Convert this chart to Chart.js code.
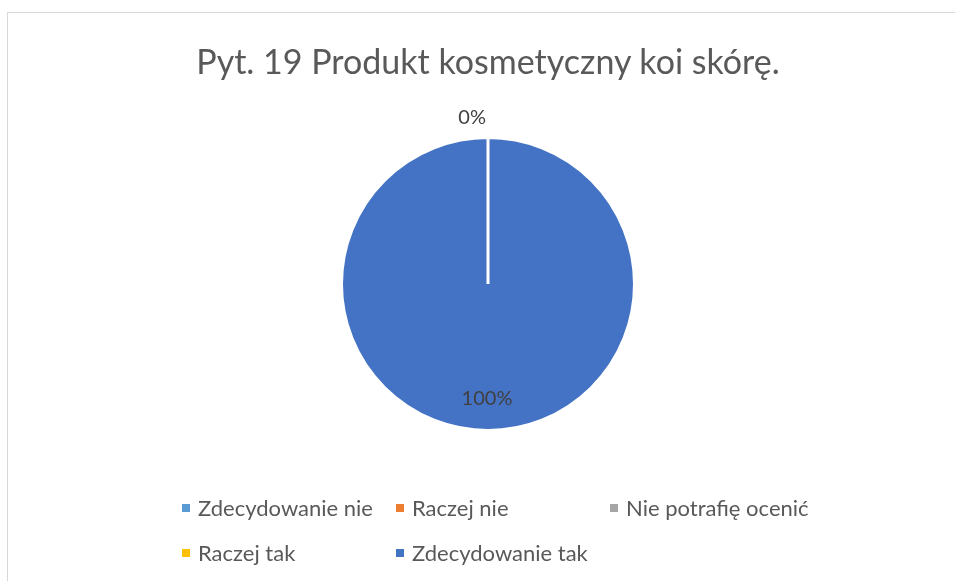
<!DOCTYPE html>
<html>
<head>
<meta charset="utf-8">
<script src="https://cdn.jsdelivr.net/npm/chart.js@4"></script>
<style>
  html, body { margin: 0; padding: 0; background: #fff; }
  #wrap { position: relative; width: 955px; height: 581px; overflow: hidden; }
  #frame { position: absolute; left: 7px; top: 12px; width: 1000px; height: 1000px; border: 1px solid #d9d9d9; box-sizing: border-box; }
  canvas { position: absolute; left: 0; top: 0; }
  #title { position: absolute; left: 0; width: 976px; top: 41px; text-align: center; font-family: Lato, sans-serif; font-size: 34px; color: #595959; white-space: nowrap; line-height: 40px; }
  #legend { position: absolute; left: 182px; top: 494px; font-family: Lato, sans-serif; font-size: 22px; color: #595959; }
  .item { position: absolute; white-space: nowrap; line-height: 28px; height: 28px; }
  .sw { position: absolute; left: 0; top: 10px; width: 8px; height: 8px; }
  .lbl { position: absolute; left: 16px; top: 0; }
</style>
</head>
<body>
<div id="wrap">
  <div id="frame"></div>
  <canvas id="c" width="955" height="581"></canvas>
  <div id="title"></div>
  <div id="legend"></div>
</div>
<script>
const titleText = "Pyt. 19 Produkt kosmetyczny koi skórę.";
const categories = ["Zdecydowanie nie", "Raczej nie", "Nie potrafię ocenić", "Raczej tak", "Zdecydowanie tak"];
const values = [0, 0, 0, 0, 100];
const colors = ["#5B9BD5", "#ED7D31", "#A5A5A5", "#FFC000", "#4472C4"];

document.getElementById('title').textContent = titleText;

// legend in grid (3 columns)
const legend = document.getElementById('legend');
const colW = 214, rowH = 45;
categories.forEach((c, i) => {
  const it = document.createElement('div');
  it.className = 'item';
  it.style.left = ((i % 3) * colW) + 'px';
  it.style.top = (Math.floor(i / 3) * rowH) + 'px';
  const sw = document.createElement('span');
  sw.className = 'sw';
  sw.style.background = colors[i];
  const lb = document.createElement('span');
  lb.className = 'lbl';
  lb.textContent = c;
  it.appendChild(sw); it.appendChild(lb);
  legend.appendChild(it);
});

const labelPlugin = {
  id: 'pctLabels',
  afterDatasetsDraw(chart) {
    const ctx = chart.ctx;
    const meta = chart.getDatasetMeta(0);
    const data = chart.data.datasets[0].data;
    const total = data.reduce((a, b) => a + b, 0);
    ctx.save();
    ctx.font = '20px Lato, sans-serif';
    ctx.fillStyle = '#404040';
    ctx.textBaseline = 'middle';
    let zeroDrawn = false;
    meta.data.forEach((arc, i) => {
      const p = arc.getProps(['x', 'y', 'startAngle', 'endAngle', 'outerRadius'], true);
      const pct = Math.round(data[i] / total * 100) + '%';
      const mid = (p.startAngle + p.endAngle) / 2;
      if (data[i] === 0) {
        if (zeroDrawn) return;
        zeroDrawn = true;
        ctx.textAlign = 'right';
        const r = p.outerRadius + 20;
        ctx.fillText(pct, p.x + Math.cos(mid) * r - 2, p.y + Math.sin(mid) * r);
      } else {
        ctx.textAlign = 'center';
        const r = p.outerRadius * 0.78;
        ctx.fillText(pct, p.x + Math.cos(mid) * r - 1, p.y + Math.sin(mid) * r);
      }
    });
    ctx.restore();
  }
};

new Chart(document.getElementById('c'), {
  type: 'pie',
  data: {
    labels: categories,
    datasets: [{
      data: values,
      backgroundColor: colors,
      borderColor: '#ffffff',
      borderWidth: 3
    }]
  },
  options: {
    responsive: false,
    animation: false,
    layout: { padding: { top: 136, bottom: 149, left: 21, right: 0 } },
    plugins: {
      legend: { display: false },
      title: { display: false },
      tooltip: { enabled: false }
    }
  },
  plugins: [labelPlugin]
});
</script>
</body>
</html>
